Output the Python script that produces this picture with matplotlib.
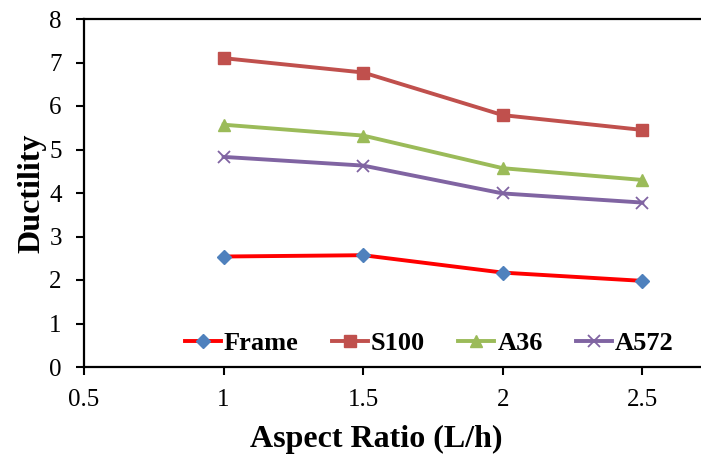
import matplotlib
matplotlib.use("Agg")
import matplotlib.pyplot as plt

x = [1, 1.5, 2, 2.5]
frame = [2.54, 2.57, 2.17, 1.98]
s100 = [7.10, 6.77, 5.79, 5.45]
a36 = [5.57, 5.32, 4.57, 4.30]
a572 = [4.83, 4.63, 3.99, 3.78]
xticks = [0.5, 1, 1.5, 2, 2.5]
yticks = [0, 1, 2, 3, 4, 5, 6, 7, 8]

plt.rcParams['font.family'] = ['Liberation Serif', 'DejaVu Serif']

fig = plt.figure(figsize=(7.01, 4.59), dpi=100)
ax = fig.add_axes([84/701, 1-367/459, 1-84/701, (367-19)/459])

ax.plot(x, frame, color='#FF0000', lw=2.8, marker='D', ms=7.5,
        mfc='#4F81BD', mec='#4F81BD', label='Frame')
ax.plot(x, s100, color='#C0504D', lw=2.8, marker='s', ms=8.5,
        mfc='#C0504D', mec='#C0504D', label='S100')
ax.plot(x, a36, color='#9BBB59', lw=2.8, marker='^', ms=9,
        mfc='#9BBB59', mec='#9BBB59', label='A36')
ax.plot(x, a572, color='#8064A2', lw=2.8, marker='x', ms=9, mew=1.3,
        mfc='#8064A2', mec='#8064A2', label='A572')

ax.set_xlim(0.5, 2.71)
ax.set_ylim(0, 8)
ax.set_xticks(xticks)
ax.set_xticklabels([f"{t:g}" for t in xticks])
ax.set_yticks(yticks)
for s in ['left', 'bottom', 'top']:
    ax.spines[s].set_linewidth(1.6)
    ax.spines[s].set_color('black')
ax.spines['right'].set_visible(False)
ax.tick_params(direction='out', length=6, width=1.5, labelsize=18)
ax.tick_params(axis='x', pad=10)
ax.tick_params(axis='y', pad=10)

ax.set_xlabel('Aspect Ratio (L/h)', fontsize=23, fontweight='bold')
ax.xaxis.set_label_coords(0.473, -0.165)
ax.set_ylabel('Ductility', fontsize=23, fontweight='bold', labelpad=2)

leg = ax.legend(loc='center left', bbox_to_anchor=(185/701, 1-343/459),
                bbox_transform=fig.transFigure, ncol=4, frameon=False,
                prop={'weight': 'bold', 'size': 19}, borderpad=0,
                borderaxespad=0, handlelength=1.35, columnspacing=1.27,
                handletextpad=0.12)

fig.savefig('out.png', dpi=100)
